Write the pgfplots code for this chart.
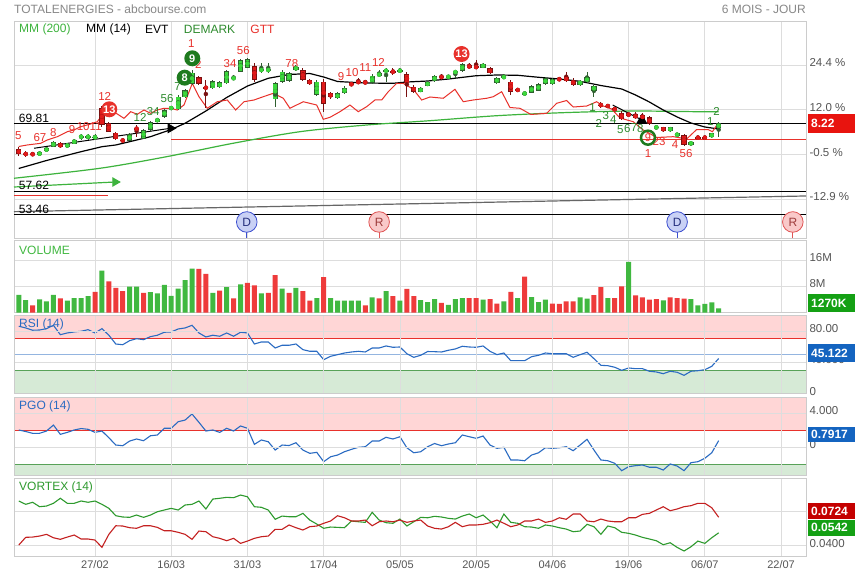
\documentclass[border=0pt]{standalone}
\usepackage{fontspec}
\setmainfont{Liberation Sans}
\usepackage{pgfplots}
\pgfplotsset{compat=1.18}
\usepackage{pgfplotstable}
\newcommand\fs[1]{\fontsize{#1}{#1}\selectfont}
\definecolor{cg}{HTML}{3CD83C}
\definecolor{cgd}{HTML}{2F5F2F}
\definecolor{cr}{HTML}{E01A1A}
\definecolor{crd}{HTML}{7A1010}
\definecolor{vg}{HTML}{40B840}
\definecolor{vr}{HTML}{EE3B3B}
\definecolor{mmg}{HTML}{3DB33D}
\definecolor{gtt}{HTML}{E8312B}
\definecolor{dm}{HTML}{2E8B2E}
\definecolor{dmc}{HTML}{1E7A1E}
\definecolor{gridc}{HTML}{DDDDDD}
\definecolor{framec}{HTML}{CCCCCC}
\definecolor{labc}{HTML}{555555}
\definecolor{titc}{HTML}{888888}
\definecolor{pinkf}{HTML}{FFD6D6}
\definecolor{greenf}{HTML}{D6EAD6}
\definecolor{rsib}{HTML}{2A6BC2}
\definecolor{boxred}{HTML}{E8140F}
\definecolor{boxgreen}{HTML}{14A014}
\definecolor{boxblue}{HTML}{1464C0}
\definecolor{boxdred}{HTML}{C40000}
\definecolor{vxg}{HTML}{2E9A2E}
\definecolor{vxr}{HTML}{C42020}
\definecolor{dfill}{HTML}{C9D1F5}
\definecolor{ddraw}{HTML}{3D4FD0}
\definecolor{rfill}{HTML}{F9C9C9}
\definecolor{rdraw}{HTML}{E05555}

\pgfplotstableread{
i o h l c
3 64.07 64.84 63.94 64.66
4 64.79 65.56 64.66 65.38
5 65.61 66.64 65.56 66.46
7 65.50 66.28 65.38 66.15
8 66.15 67.00 66.10 66.87
9 67.39 67.98 66.82 67.43
10 67.39 67.89 66.82 67.43
11 67.28 67.89 66.82 67.32
16 66.69 68.07 66.64 67.89
18 67.05 68.79 66.91 68.61
19 68.61 70.23 68.43 70.00
20 70.10 70.77 70.05 70.64
21 70.95 72.38 70.77 72.20
22 72.54 72.74 72.38 72.58
23 72.33 74.90 72.20 74.59
24 74.49 75.98 74.36 75.80
25 76.87 79.39 76.69 78.90
28 76.10 77.59 75.98 77.41
29 76.28 77.41 76.16 77.18
30 77.00 79.39 76.87 79.21
31 77.88 78.49 77.59 77.92
32 79.08 81.36 79.03 81.18
33 79.80 81.54 79.66 81.31
35 79.37 80.65 78.85 79.41
36 79.37 80.65 78.85 79.41
37 74.13 77.23 72.74 77.00
38 77.29 79.39 77.05 79.08
39 77.41 79.03 77.23 78.80
40 79.39 80.20 79.21 79.98
43 74.90 77.59 74.72 77.29
46 74.31 75.44 74.18 75.20
47 75.20 76.51 75.08 76.21
51 77.11 78.67 76.96 78.36
52 78.31 79.39 78.13 78.80
53 79.24 79.75 77.23 79.28
55 79.24 79.75 78.85 79.28
58 75.49 76.33 75.35 76.10
59 76.57 77.41 76.43 77.18
60 77.41 78.49 77.23 78.31
62 77.95 78.58 77.77 78.40
63 79.01 79.39 77.95 79.05
64 79.21 80.65 79.03 80.41
67 79.80 80.65 79.66 80.47
69 77.11 78.13 76.87 77.90
70 77.90 78.67 77.77 78.31
73 75.02 75.44 74.90 75.31
74 75.31 76.69 75.17 76.51
75 75.67 77.05 75.53 76.87
76 76.87 78.13 76.69 77.90
77 76.87 77.95 76.69 77.72
81 76.69 77.59 76.51 77.47
82 77.23 79.03 77.05 78.08
83 75.67 76.69 74.59 76.51
92 68.97 69.33 68.79 69.20
94 68.43 69.24 68.25 69.10
95 67.53 68.16 67.36 68.02
97 65.92 66.64 65.74 66.51
100 67.30 68.16 67.18 68.02
101 68.92 69.96 67.41 69.82
}\upc

\pgfplotstableread{
i o h l c
0 65.15 65.61 63.94 64.30
1 64.32 64.84 63.76 64.28
2 64.27 64.66 63.94 64.23
6 66.22 66.37 65.38 65.50
12 72.56 72.92 69.15 69.51
13 69.82 70.05 68.25 68.31
14 68.13 68.25 66.82 66.94
15 66.82 67.00 66.46 66.64
17 68.87 69.51 67.36 68.83
26 78.08 78.31 76.69 76.87
27 76.23 77.59 72.56 76.19
34 80.11 80.65 77.23 77.59
41 79.39 79.75 77.41 77.59
42 77.59 77.77 76.69 76.82
44 77.29 77.77 71.90 73.28
45 75.20 75.44 74.27 74.49
48 77.00 77.23 76.51 76.64
49 77.41 77.95 76.87 77.00
50 77.29 77.59 76.87 77.00
54 79.10 79.75 78.49 79.06
56 78.67 79.03 74.59 77.00
57 76.39 76.69 75.26 75.49
61 78.31 78.67 77.77 77.90
65 80.23 80.65 79.66 79.80
66 80.11 81.18 79.57 79.69
68 79.69 79.93 78.67 78.80
71 77.29 77.59 74.90 75.49
72 75.82 76.16 75.44 75.78
78 77.74 78.13 77.41 77.70
79 78.08 79.03 77.32 77.47
80 77.59 77.95 76.51 76.69
84 73.12 73.64 72.56 73.08
85 72.94 73.28 72.56 72.90
86 72.51 72.74 72.02 72.20
87 71.72 72.02 70.41 70.53
88 71.61 71.84 70.95 71.13
89 71.43 71.84 70.59 70.71
90 71.31 71.67 70.41 70.59
91 70.89 71.13 69.51 69.69
93 69.10 69.24 68.25 68.43
96 67.71 67.89 65.74 65.92
98 67.25 67.53 67.00 67.21
99 67.25 67.53 67.00 67.21
}\downc

\pgfplotsset{
  panel/.style={
    scale only axis, width=792pt, anchor=north west,
    xmin=-0.69, xmax=113.6,
    axis line style={draw=framec, line width=0.8pt},
    xtick={11,22,33,44,55,66,77,88,99,110},
    xticklabels={},
    xmajorgrids, ymajorgrids,
    major grid style={draw=gridc, line width=0.8pt},
    major tick length=0pt, tick style={draw=none},
    yticklabel pos=right,
    yticklabel style={font=\fs{11.5}, text=labc, yshift=2.5pt},
  },
  candle/.style={only marks, mark=none, forget plot, color=#1,
    error bars/y dir=both, error bars/y explicit, error bars/error mark=none},
}
\tikzset{
  gtl/.style={text=gtt, font=\fs{11.5}, inner sep=0pt},
  dml/.style={text=dm, font=\fs{11.5}, inner sep=0pt},
}

\begin{document}
\begin{tikzpicture}
\fill[white] (0,0) rectangle (855pt,-579pt);
\node[anchor=west, text=titc, font=\fs{12}, inner sep=0pt] at (14pt,-9pt) {TOTALENERGIES - abcbourse.com};
\node[anchor=east, text=titc, font=\fs{12}, inner sep=0pt] at (806pt,-9pt) {6 MOIS - JOUR};

% ================= MAIN PANEL =================
\begin{axis}[panel, at={(14pt,-21pt)}, height=217pt,
  ymin=49.21, ymax=88.19,
  ytick={56.18,64.18,72.24,80.24},
  yticklabels={-12.9 \%,-0.5 \%,12.0 \%,24.4 \%}]

\addplot[black, line width=1pt] coordinates {(-0.69,69.81) (113.6,69.81)};
\addplot[black, line width=1pt] coordinates {(-0.69,57.62) (113.6,57.62)};
\addplot[black, line width=1pt] coordinates {(-0.69,53.46) (113.6,53.46)};
\addplot[black!60, line width=1.2pt] coordinates {(-0.69,53.94) (113.6,56.76)};
\addplot[gtt, line width=1.6pt] coordinates {(22,66.87) (113.6,66.87)};
\addplot[gtt, line width=1pt] coordinates {(-0.69,56.88) (12.9,56.88)};
\addplot[mmg, line width=1.2pt, mark=triangle*, mark indices={2}, mark size=4.5pt,
  mark options={rotate=-90, fill=mmg, draw=mmg}] coordinates {(-0.69,58.37) (13.9,59.27)};

% MM(200)
\addplot[mmg, line width=1.2pt, smooth] coordinates {(-0.69,59.94) (11.7,61.73) (21.3,63.81) (30.9,66.22) (40.6,68.31) (50.2,69.51) (59.3,70.28) (69,71.18) (78.5,71.72) (88.2,72.02) (97.8,71.90) (101,71.90)};
% MM(14)
\addplot[black, line width=1.2pt] coordinates {(0,61.7) (4,63.13) (9,64.72) (12,65.61) (14,65.92) (16,66.51) (19,67.41) (22,68.70) (24,69.82) (27,72.02) (30,74.45) (33,76.51) (36,77.90) (39,78.58) (42,78.76) (44,78.13) (46,77.32) (50,77.05) (54,77.00) (56,77.23) (59,77.41) (62,77.77) (66,78.36) (69,78.49) (72,78.44) (75,78.08) (78,77.77) (81,77.36) (84,76.60) (87,75.98) (89,74.90) (91,73.64) (93,72.20) (95,70.95) (97,69.87) (99,69.15) (101,68.79)};
% GTT
\addplot[gtt, line width=1pt] coordinates {(0,65.65) (1.23,65.92) (3.16,66.22) (4.11,66.82) (5.56,67.41) (7.0,68.31) (7.97,68.61) (8.93,69.20) (10.38,69.69) (11.33,70.10) (12.05,71.31) (13.26,72.20) (14.21,71.49) (15.18,70.71) (16.15,71.90) (17.10,71.43) (18.07,72.20) (19.03,71.61) (19.99,72.20) (20.95,72.51) (21.92,72.51) (22.87,72.20) (23.84,73.10) (25.04,77.00) (26.0,74.59) (27.2,72.51) (28.64,73.69) (30.09,74.00) (31.30,72.20) (32.50,73.69) (33.94,74.00) (35.28,74.59) (36.72,75.20) (38.17,74.31) (39.13,72.51) (41.05,73.69) (42.99,73.10) (43.94,70.53) (44.91,70.89) (46.35,71.90) (47.79,73.10) (48.99,71.90) (50.20,72.80) (51.40,74.00) (52.37,74.00) (53.32,75.49) (54.53,77.00) (55.48,77.00) (56.93,75.92) (58.14,74.00) (59.34,74.54) (61.26,74.31) (62.94,75.92) (64.14,73.69) (65.58,74.00) (67.52,74.31) (68.47,74.59) (69.68,75.49) (70.88,72.65) (72.32,72.51) (73.91,71.40) (76.18,71.61) (77.62,73.41) (79.06,73.91) (80.01,72.74) (81.95,72.92) (83.39,73.69) (84.34,72.92) (85.56,72.38) (86.75,70.77) (88.67,70.10) (90.12,68.61) (92.05,67.27) (94.44,67.41) (96.38,67.00) (97.82,68.70) (99.45,68.70) (100.1,68.31) (100.94,69.87)};
% EVT
\addplot[black, line width=1pt, mark=triangle*, mark indices={2}, mark size=5pt,
  mark options={rotate=-90, fill=black}] coordinates {(2.2,65.33) (21.9,68.92)};
\addplot[black, line width=1pt, mark=triangle*, mark indices={2}, mark size=5pt,
  mark options={fill=black}] coordinates {(85.7,73.10) (89.9,70.41)};

% candles: wicks
\addplot[candle=cgd, error bars/error bar style={line width=1pt}]
  table[x=i, y expr={(\thisrow{h}+\thisrow{l})/2}, y error expr={(\thisrow{h}-\thisrow{l})/2}] {\upc};
\addplot[candle=crd, error bars/error bar style={line width=1pt}]
  table[x=i, y expr={(\thisrow{h}+\thisrow{l})/2}, y error expr={(\thisrow{h}-\thisrow{l})/2}] {\downc};
% candles: body outlines
\addplot[candle=cgd, error bars/error bar style={line width=5.2pt}]
  table[x=i, y expr={(\thisrow{o}+\thisrow{c})/2}, y error expr={max(abs(\thisrow{c}-\thisrow{o})/2,0.09)}] {\upc};
\addplot[candle=crd, error bars/error bar style={line width=5.2pt}]
  table[x=i, y expr={(\thisrow{o}+\thisrow{c})/2}, y error expr={max(abs(\thisrow{c}-\thisrow{o})/2,0.09)}] {\downc};
% candles: body fills
\addplot[candle=cg, error bars/error bar style={line width=3.6pt}]
  table[x=i, y expr={(\thisrow{o}+\thisrow{c})/2}, y error expr={max(abs(\thisrow{c}-\thisrow{o})/2-0.13,0)}] {\upc};
\addplot[candle=cr, error bars/error bar style={line width=3.6pt}]
  table[x=i, y expr={(\thisrow{o}+\thisrow{c})/2}, y error expr={max(abs(\thisrow{c}-\thisrow{o})/2-0.13,0)}] {\downc};

% event markers
\addplot[ycomb, draw=ddraw, line width=0.8pt, mark=none] coordinates {(32.9,50.4) (95,50.4)};
\addplot[ycomb, draw=rdraw, line width=0.8pt, mark=none] coordinates {(52.0,50.4) (111.7,50.4)};
\addplot[only marks, mark=*, mark size=10.3pt, mark options={fill=dfill, draw=ddraw, line width=0.8pt},
  nodes near coords={D}, every node near coord/.style={anchor=center, text=ddraw!60!black, font=\fs{12}}]
  coordinates {(32.9,52.09) (95,52.09)};
\addplot[only marks, mark=*, mark size=10.3pt, mark options={fill=rfill, draw=rdraw, line width=0.8pt},
  nodes near coords={R}, every node near coord/.style={anchor=center, text=rdraw!70!black, font=\fs{12}}]
  coordinates {(52.0,52.09) (111.7,52.09)};

% level labels
\node[anchor=south west, font=\fs{12}, inner sep=1pt] at (axis cs:-0.15,69.81) {69.81};
\node[anchor=south west, font=\fs{12}, inner sep=1pt] at (axis cs:-0.15,57.62) {57.62};
\node[anchor=south west, font=\fs{12}, inner sep=1pt] at (axis cs:-0.15,53.46) {53.46};

% legend
\node[anchor=west, text=mmg, font=\fs{12}, inner sep=0pt] at (axis cs:0.03,86.75) {MM (200)};
\node[anchor=west, text=black, font=\fs{12}, inner sep=0pt] at (axis cs:9.7,86.75) {MM (14)};
\node[anchor=west, text=black, font=\fs{12}, inner sep=0pt] at (axis cs:18.2,86.75) {EVT};
\node[anchor=west, text=dm, font=\fs{12}, inner sep=0pt] at (axis cs:23.8,86.75) {DEMARK};
\node[anchor=west, text=gtt, font=\fs{12}, inner sep=0pt] at (axis cs:33.4,86.75) {GTT};

% GTT counts
\node[gtl] at (axis cs:-0.07,67.53) {5};
\node[gtl] at (axis cs:3.06,67.17) {67};
\node[gtl] at (axis cs:4.98,68.07) {8};
\node[gtl] at (axis cs:7.7,68.74) {9};
\node[gtl] at (axis cs:9.3,69.20) {10};
\node[gtl] at (axis cs:11.1,69.20) {11};
\node[gtl] at (axis cs:12.4,74.59) {12};
\node[circle, fill=gtt, text=white, font=\bfseries\fs{11}, minimum size=16pt, inner sep=0pt] at (axis cs:13.06,72.33) {13};
\node[gtl] at (axis cs:24.9,84.18) {1};
\node[gtl] at (axis cs:25.9,80.29) {2};
\node[gtl] at (axis cs:30.5,80.59) {34};
\node[gtl] at (axis cs:32.4,82.85) {56};
\node[gtl] at (axis cs:39.4,80.59) {78};
\node[gtl] at (axis cs:46.5,78.18) {9};
\node[gtl] at (axis cs:48.1,78.97) {10};
\node[gtl] at (axis cs:50.0,79.80) {11};
\node[gtl] at (axis cs:51.9,80.77) {12};
\node[circle, fill=gtt, text=white, font=\bfseries\fs{11}, minimum size=16pt, inner sep=0pt] at (axis cs:63.9,82.26) {13};
\node[gtl] at (axis cs:92.4,66.51) {23};
\node[gtl] at (axis cs:90.8,64.30) {1};
\node[gtl] at (axis cs:94.7,65.92) {4};
\node[gtl] at (axis cs:96.3,64.30) {56};
% DEMARK counts
\node[dml] at (axis cs:17.5,70.89) {12};
\node[dml] at (axis cs:19.4,71.90) {34};
\node[dml] at (axis cs:21.4,74.31) {56};
\node[dml] at (axis cs:22.9,76.39) {7};
\node[circle, fill=dmc, text=white, font=\bfseries\fs{11}, minimum size=16pt, inner sep=0pt] at (axis cs:23.94,78.01) {8};
\node[circle, fill=dmc, text=white, font=\bfseries\fs{11}, minimum size=16pt, inner sep=0pt] at (axis cs:25.04,81.49) {9};
\node[dml] at (axis cs:82.8,72.69) {1};
\node[dml] at (axis cs:83.7,69.82) {2};
\node[dml] at (axis cs:84.7,71.13) {3};
\node[dml] at (axis cs:85.8,70.53) {4};
\node[dml] at (axis cs:86.8,68.61) {5};
\node[dml] at (axis cs:87.8,68.92) {6};
\node[dml] at (axis cs:88.8,69.10) {7};
\node[dml] at (axis cs:89.7,68.92) {8};
\node[circle, draw=dmc, line width=2.5pt, minimum size=14pt, inner sep=0pt, text=gtt, font=\fs{11}] at (axis cs:90.8,67.23) {9};
\node[dml] at (axis cs:99.8,70.10) {1};
\node[dml] at (axis cs:100.7,71.90) {2};
\end{axis}

% ================= VOLUME =================
\begin{axis}[panel, at={(14pt,-240pt)}, height=72.5pt,
  ymin=0, ymax=22.1, ytick={8,16}, yticklabels={8M,16M}]
\addplot[ybar, bar width=5pt, bar shift=0pt, fill=vg, draw=none] coordinates {(0,5.4) (1,3.8) (3,4.0) (4,3.4) (5,5.4) (7,3.6) (8,4.4) (9,4.4) (10,5.0) (12,12.8) (16,7.9) (17,7.9) (19,6.2) (20,5.8) (21,8.4) (22,5.1) (23,7.3) (24,9.9) (25,13.4) (28,6.0) (30,7.7) (32,8.6) (35,5.8) (38,7.3) (40,7.5) (43,4.4) (45,4.4) (46,3.6) (47,3.6) (48,3.6) (49,3.6) (51,4.6) (53,6.5) (55,3.6) (58,3.8) (59,3.2) (60,4.1) (62,2.3) (63,4.1) (64,4.4) (67,3.9) (70,3.4) (72,4.4) (74,4.7) (75,3.2) (76,3.9) (81,4.6) (82,4.2) (85,4.4) (88,15.4) (93,3.7) (97,4.1) (98,2.2) (99,2.6) (100,3.1) (101,1.27)};
\addplot[ybar, bar width=5pt, bar shift=0pt, fill=vr, draw=none] coordinates {(2,2.2) (6,4.3) (11,6.3) (13,9.5) (14,7.5) (15,6.5) (18,6.0) (26,13.3) (27,11.8) (29,6.7) (31,4.3) (33,9.0) (34,8.3) (36,6.0) (37,11.4) (39,6.0) (41,6.5) (42,3.6) (44,10.8) (50,2.2) (52,4.3) (54,5.0) (56,7.2) (57,5.0) (61,2.9) (65,4.4) (66,4.4) (68,4.1) (69,2.7) (71,6.3) (73,10.9) (77,2.7) (78,2.6) (79,3.4) (80,3.4) (83,5.3) (84,7.7) (86,4.4) (87,8.0) (89,5.2) (90,4.6) (91,3.9) (92,4.1) (94,4.6) (95,4.4) (96,4.2)};
\node[anchor=west, text=vg, font=\fs{12}, inner sep=0pt] at (axis cs:0.03,18.8) {VOLUME};
\end{axis}

% ================= RSI =================
\begin{axis}[panel, at={(14pt,-315.5pt)}, height=78.3pt, axis on top,
  ymin=0, ymax=100, ytick={0,40,80}, yticklabels={0,40.000,80.00}]
\addplot[fill=pinkf, draw=none] coordinates {(-0.69,70) (113.6,70) (113.6,100) (-0.69,100)};
\addplot[fill=greenf, draw=none] coordinates {(-0.69,0) (113.6,0) (113.6,30) (-0.69,30)};
\addplot[gtt, line width=1pt] coordinates {(-0.69,70) (113.6,70)};
\addplot[dm!80, line width=1pt] coordinates {(-0.69,30) (113.6,30)};
\addplot[rsib!50, line width=1pt] coordinates {(-0.69,50) (113.6,50)};
\addplot[rsib, line width=1.1pt] coordinates {(0,86.3) (1,84.1) (2,81.2) (3,81.5) (4,83.2) (5,87.5) (6,75.5) (7,77.7) (8,79.0) (9,79.9) (10,81.9) (11,77.7) (12,83.2) (13,74.8) (14,63.6) (15,62.7) (16,67.9) (17,70.4) (18,69.1) (19,73.0) (20,74.8) (21,78.6) (22,79.0) (23,82.8) (24,84.1) (25,87.5) (26,77.7) (27,72.6) (28,74.8) (29,73.5) (30,77.7) (31,73.5) (32,78.6) (33,77.7) (34,63.6) (35,66.2) (36,66.2) (37,58.5) (38,62.0) (39,62.0) (40,63.6) (41,56.4) (42,54.3) (43,54.3) (44,43.6) (45,47.9) (46,50.0) (47,52.1) (48,53.4) (49,54.3) (50,53.4) (51,58.5) (52,58.5) (53,61.1) (54,59.4) (55,59.8) (56,51.2) (57,46.6) (58,49.2) (59,54.0) (60,53.8) (61,53.4) (62,55.6) (63,57.3) (64,60.7) (65,59.8) (66,59.4) (67,61.1) (68,54.3) (69,50.0) (70,52.1) (71,42.3) (72,42.3) (73,42.3) (74,47.4) (75,49.2) (76,52.1) (77,51.2) (78,51.2) (79,51.2) (80,46.6) (81,50.0) (82,53.0) (83,44.9) (84,36.4) (85,35.9) (86,33.9) (87,30.0) (88,33.0) (89,32.1) (90,32.1) (91,28.8) (92,27.9) (93,25.7) (94,28.8) (95,27.5) (96,23.6) (97,28.8) (98,29.5) (99,30.8) (100,35.1) (101,45.1)};
\node[anchor=west, text=rsib, font=\fs{12}, inner sep=0pt] at (axis cs:0.03,89.2) {RSI (14)};
\end{axis}

% ================= PGO =================
\begin{axis}[panel, at={(14pt,-397.7pt)}, height=78pt, axis on top,
  ymin=-3.34, ymax=5.84, ytick={0,4}, yticklabels={0,4.000}]
\addplot[fill=pinkf, draw=none] coordinates {(-0.69,2) (113.6,2) (113.6,5.84) (-0.69,5.84)};
\addplot[fill=greenf, draw=none] coordinates {(-0.69,-3.34) (113.6,-3.34) (113.6,-2) (-0.69,-2)};
\addplot[gtt, line width=1pt] coordinates {(-0.69,2) (113.6,2)};
\addplot[dm!80, line width=1pt] coordinates {(-0.69,-2) (113.6,-2)};
\addplot[rsib, line width=1.1pt] coordinates {(0,2.04) (1,1.86) (2,1.65) (3,1.65) (4,1.92) (5,2.62) (6,1.53) (7,1.76) (8,2.04) (9,2.21) (10,2.12) (11,1.76) (12,1.92) (13,1.13) (14,0.27) (15,0.19) (16,0.74) (17,0.98) (18,0.78) (19,1.36) (20,1.45) (21,2.24) (22,2.24) (23,3.01) (24,3.21) (25,3.92) (26,2.94) (27,1.92) (28,2.04) (29,1.76) (30,2.24) (31,1.92) (32,2.51) (33,2.24) (34,0.35) (35,0.86) (36,0.66) (37,-0.32) (38,0.27) (39,0.21) (40,0.54) (41,-0.32) (42,-0.71) (43,-0.59) (44,-1.69) (45,-1.11) (46,-0.91) (47,-0.52) (48,-0.24) (49,0.0) (50,0.07) (51,0.74) (52,0.74) (53,1.18) (54,0.98) (55,1.25) (56,-0.05) (57,-0.64) (58,-0.52) (59,0.07) (60,0.45) (61,0.19) (62,0.39) (63,0.54) (64,1.45) (65,1.25) (66,1.06) (67,1.33) (68,0.27) (69,-0.12) (70,0.0) (71,-1.49) (72,-1.49) (73,-1.58) (74,-0.91) (75,-0.64) (76,-0.05) (77,-0.12) (78,-0.05) (79,0.07) (80,-0.40) (81,0.27) (82,0.94) (83,-0.32) (84,-1.49) (85,-1.58) (86,-1.88) (87,-2.75) (88,-2.28) (89,-2.16) (90,-2.08) (91,-2.35) (92,-2.35) (93,-2.67) (94,-1.96) (95,-2.20) (96,-2.75) (97,-1.81) (98,-1.69) (99,-1.29) (100,-0.64) (101,0.79)};
\node[anchor=west, text=rsib, font=\fs{12}, inner sep=0pt] at (axis cs:0.03,4.86) {PGO (14)};
\end{axis}

% ================= VORTEX =================
\begin{axis}[panel, at={(14pt,-478.3pt)}, height=78.4pt,
  ymin=0.0271, ymax=0.1193, ytick={0.04,0.08}, yticklabels={0.0400,},
  xticklabels={27/02,16/03,31/03,17/04,05/05,20/05,04/06,19/06,06/07,22/07},
  xticklabel style={font=\fs{11}, text=labc}]
\addplot[vxg, line width=1.1pt] coordinates {(0,0.0926) (1,0.0887) (2,0.0911) (3,0.0859) (4,0.0867) (5,0.0899) (6,0.0958) (7,0.0899) (8,0.0899) (9,0.0926) (10,0.0911) (11,0.0926) (12,0.0887) (13,0.0840) (14,0.0753) (15,0.0738) (16,0.0734) (17,0.0761) (18,0.0734) (19,0.0761) (20,0.0800) (21,0.0820) (22,0.0840) (23,0.0820) (24,0.0879) (25,0.0887) (26,0.0926) (27,0.0832) (28,0.0949) (29,0.0958) (30,0.0969) (31,0.0965) (32,0.0996) (33,0.0976) (34,0.0859) (35,0.0852) (36,0.0820) (37,0.0711) (38,0.0749) (39,0.0741) (40,0.0741) (41,0.0781) (42,0.0702) (43,0.0655) (44,0.0605) (45,0.0620) (46,0.0616) (47,0.0612) (48,0.0691) (49,0.0682) (50,0.0675) (51,0.0793) (52,0.0702) (53,0.0671) (54,0.0664) (55,0.0714) (56,0.0632) (57,0.0682) (58,0.0734) (59,0.0729) (60,0.0746) (61,0.0738) (62,0.0722) (63,0.0714) (64,0.0749) (65,0.0773) (66,0.0729) (67,0.0761) (68,0.0691) (69,0.0612) (70,0.0773) (71,0.0675) (72,0.0664) (73,0.0624) (74,0.0620) (75,0.0605) (76,0.0644) (77,0.0632) (78,0.0612) (79,0.0596) (80,0.0565) (81,0.0573) (82,0.0652) (83,0.0624) (84,0.0534) (85,0.0632) (86,0.0612) (87,0.0558) (88,0.0546) (89,0.0526) (90,0.0499) (91,0.0479) (92,0.0459) (93,0.0412) (94,0.0435) (95,0.0381) (96,0.0338) (97,0.0388) (98,0.0455) (99,0.0428) (100,0.0494) (101,0.0552)};
\addplot[vxr, line width=1.1pt] coordinates {(0,0.0408) (1,0.0499) (2,0.0502) (3,0.0514) (4,0.0534) (5,0.0494) (6,0.0475) (7,0.0502) (8,0.0526) (9,0.0479) (10,0.0479) (11,0.0467) (12,0.0381) (13,0.0534) (14,0.0635) (15,0.0632) (16,0.0612) (17,0.0605) (18,0.0635) (19,0.0635) (20,0.0616) (21,0.0576) (22,0.0576) (23,0.0558) (24,0.0534) (25,0.0475) (26,0.0573) (27,0.0565) (28,0.0506) (29,0.0487) (30,0.0459) (31,0.0487) (32,0.0428) (33,0.0455) (34,0.0487) (35,0.0506) (36,0.0514) (37,0.0593) (38,0.0593) (39,0.0644) (40,0.0612) (41,0.0585) (42,0.0624) (43,0.0632) (44,0.0664) (45,0.0691) (46,0.0753) (47,0.0729) (48,0.0691) (49,0.0691) (50,0.0702) (51,0.0635) (52,0.0682) (53,0.0691) (54,0.0682) (55,0.0702) (56,0.0675) (57,0.0691) (58,0.0702) (59,0.0632) (60,0.0605) (61,0.0596) (62,0.0624) (63,0.0675) (64,0.0624) (65,0.0644) (66,0.0644) (67,0.0652) (68,0.0671) (69,0.0702) (70,0.0664) (71,0.0624) (72,0.0644) (73,0.0691) (74,0.0691) (75,0.0714) (76,0.0675) (77,0.0691) (78,0.0729) (79,0.0711) (80,0.0773) (81,0.0773) (82,0.0691) (83,0.0682) (84,0.0714) (85,0.0691) (86,0.0682) (87,0.0682) (88,0.0729) (89,0.0729) (90,0.0769) (91,0.0781) (92,0.0820) (93,0.0859) (94,0.0812) (95,0.0832) (96,0.0859) (97,0.0871) (98,0.0899) (99,0.0899) (100,0.0847) (101,0.0735)};
\node[anchor=west, text=vxg, font=\fs{12}, inner sep=0pt] at (axis cs:0.03,0.1091) {VORTEX (14)};
\end{axis}

% value boxes
\fill[boxred] (808pt,-114pt) rectangle (855pt,-133pt);
\node[anchor=west, text=white, font=\bfseries\fs{12}, inner sep=0pt] at (811pt,-123.5pt) {8.22};
\fill[boxgreen] (808pt,-294pt) rectangle (855pt,-312pt);
\node[anchor=west, text=white, font=\bfseries\fs{12}, inner sep=0pt] at (811pt,-303pt) {1270K};
\fill[boxblue] (808pt,-344pt) rectangle (855pt,-362pt);
\node[anchor=west, text=white, font=\bfseries\fs{12}, inner sep=0pt] at (811pt,-353pt) {45.122};
\fill[boxblue] (808pt,-426.5pt) rectangle (855pt,-442pt);
\node[anchor=west, text=white, font=\bfseries\fs{12}, inner sep=0pt] at (811pt,-434.3pt) {0.7917};
\fill[boxdred] (808pt,-503pt) rectangle (855pt,-519pt);
\node[anchor=west, text=white, font=\bfseries\fs{12}, inner sep=0pt] at (811pt,-511pt) {0.0724};
\fill[boxgreen] (808pt,-519.5pt) rectangle (855pt,-535.5pt);
\node[anchor=west, text=white, font=\bfseries\fs{12}, inner sep=0pt] at (811pt,-527.5pt) {0.0542};

\pgfresetboundingbox
\path[use as bounding box] (0,0) rectangle (855pt,-579pt);
\end{tikzpicture}
\end{document}
